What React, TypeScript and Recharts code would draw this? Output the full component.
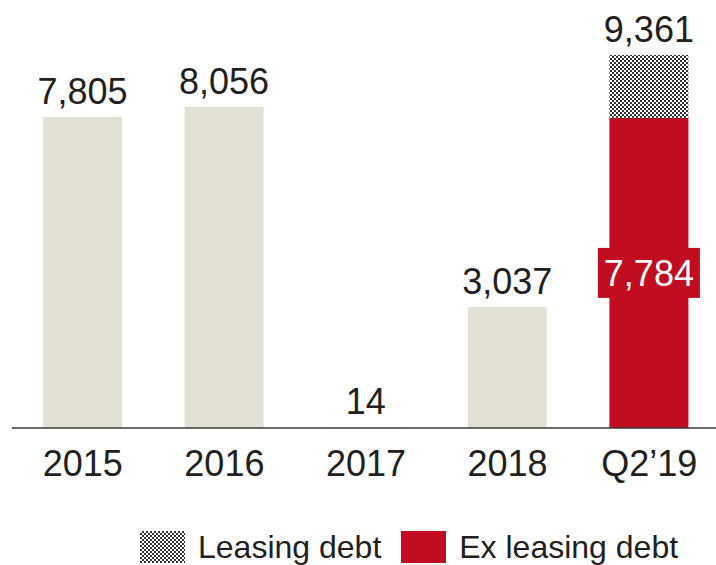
import { BarChart, Bar, XAxis, YAxis, Cell, LabelList, Legend } from "recharts";

const categories = ["2015", "2016", "2017", "2018", "Q2’19"];
const exLeasingDebt = [7805, 8056, 14, 3037, 7784];
const leasingDebt = [0, 0, 0, 0, 1577];
const totals = [7805, 8056, 14, 3037, 9361];

const BEIGE = "#E3E1D6";
const RED = "#C10D1F";
const TEXT = "#231F20";
const FONT = "'Liberation Sans', Arial, Helvetica, sans-serif";

const data = categories.map((name, i) => ({
  name,
  ex: exLeasingDebt[i],
  leasing: leasingDebt[i],
  total: totals[i],
}));

const fmt = (v: number) => Number(v).toLocaleString("en-US");

const ExLabel = (props: any) => {
  const { x, y, width, height, index } = props;
  const cx = x + width / 2;
  if (index === data.length - 1) {
    // value sits inside the red bar on a red box
    const cy = y + height / 2;
    return (
      <g>
        <rect x={cx - 51} y={cy - 25} width={102} height={50} fill={RED} />
        <text x={cx} y={cy + 13} textAnchor="middle" fill="#fff" fontSize={36} fontFamily={FONT}>
          {fmt(exLeasingDebt[index])}
        </text>
      </g>
    );
  }
  return (
    <text x={cx} y={y - 13} textAnchor="middle" fill={TEXT} fontSize={36} fontFamily={FONT}>
      {fmt(totals[index])}
    </text>
  );
};

const TotalLabel = (props: any) => {
  const { x, y, width, height, value } = props;
  if (!height || Math.abs(height) < 1) return null;
  return (
    <text x={x + width / 2} y={y - 13} textAnchor="middle" fill={TEXT} fontSize={36} fontFamily={FONT}>
      {fmt(value)}
    </text>
  );
};

const LegendContent = () => (
  <div
    style={{
      height: 40,
      boxSizing: "border-box",
      display: "flex",
      alignItems: "center",
      paddingLeft: 140,
      paddingTop: 4,
      fontFamily: FONT,
      fontSize: 32,
      color: TEXT,
    }}
  >
    <span
      style={{
        width: 45,
        height: 32,
        marginRight: 13,
        background: "repeating-conic-gradient(#333 0 25%, #fff 0 50%) 0 0 / 4px 4px",
      }}
    />
    <span style={{ marginRight: 20 }}>Leasing debt</span>
    <span style={{ width: 45, height: 32, marginRight: 13, background: RED }} />
    <span>Ex leasing debt</span>
  </div>
);

export default function App() {
  return (
    <div style={{ position: "absolute", left: 0, top: 0 }}>
      <BarChart
        width={716}
        height={565}
        data={data}
        margin={{ top: 0, right: -4, bottom: 0, left: 12 }}
        barSize={79}
      >
        <defs>
          <pattern id="checker" width="4" height="4" patternUnits="userSpaceOnUse">
            <rect width="4" height="4" fill="#fff" />
            <rect width="2" height="2" fill="#333" />
            <rect x="2" y="2" width="2" height="2" fill="#333" />
          </pattern>
        </defs>
        <XAxis
          dataKey="name"
          height={97}
          tickLine={false}
          tickSize={0}
          tickMargin={22}
          axisLine={{ stroke: "#3a3a3a", strokeWidth: 1.5 }}
          tick={{ fill: TEXT, fontSize: 36, fontFamily: FONT }}
          interval={0}
        />
        <YAxis hide domain={[0, 10740]} />
        <Legend verticalAlign="bottom" content={<LegendContent />} wrapperStyle={{ left: 0, width: 716 }} />
        <Bar dataKey="ex" stackId="a" isAnimationActive={false} name="Ex leasing debt">
          {data.map((d, i) => (
            <Cell key={d.name} fill={i === data.length - 1 ? RED : BEIGE} />
          ))}
          <LabelList dataKey="ex" content={<ExLabel />} />
        </Bar>
        <Bar dataKey="leasing" stackId="a" fill="url(#checker)" isAnimationActive={false} name="Leasing debt">
          <LabelList dataKey="total" content={<TotalLabel />} />
        </Bar>
      </BarChart>
    </div>
  );
}
